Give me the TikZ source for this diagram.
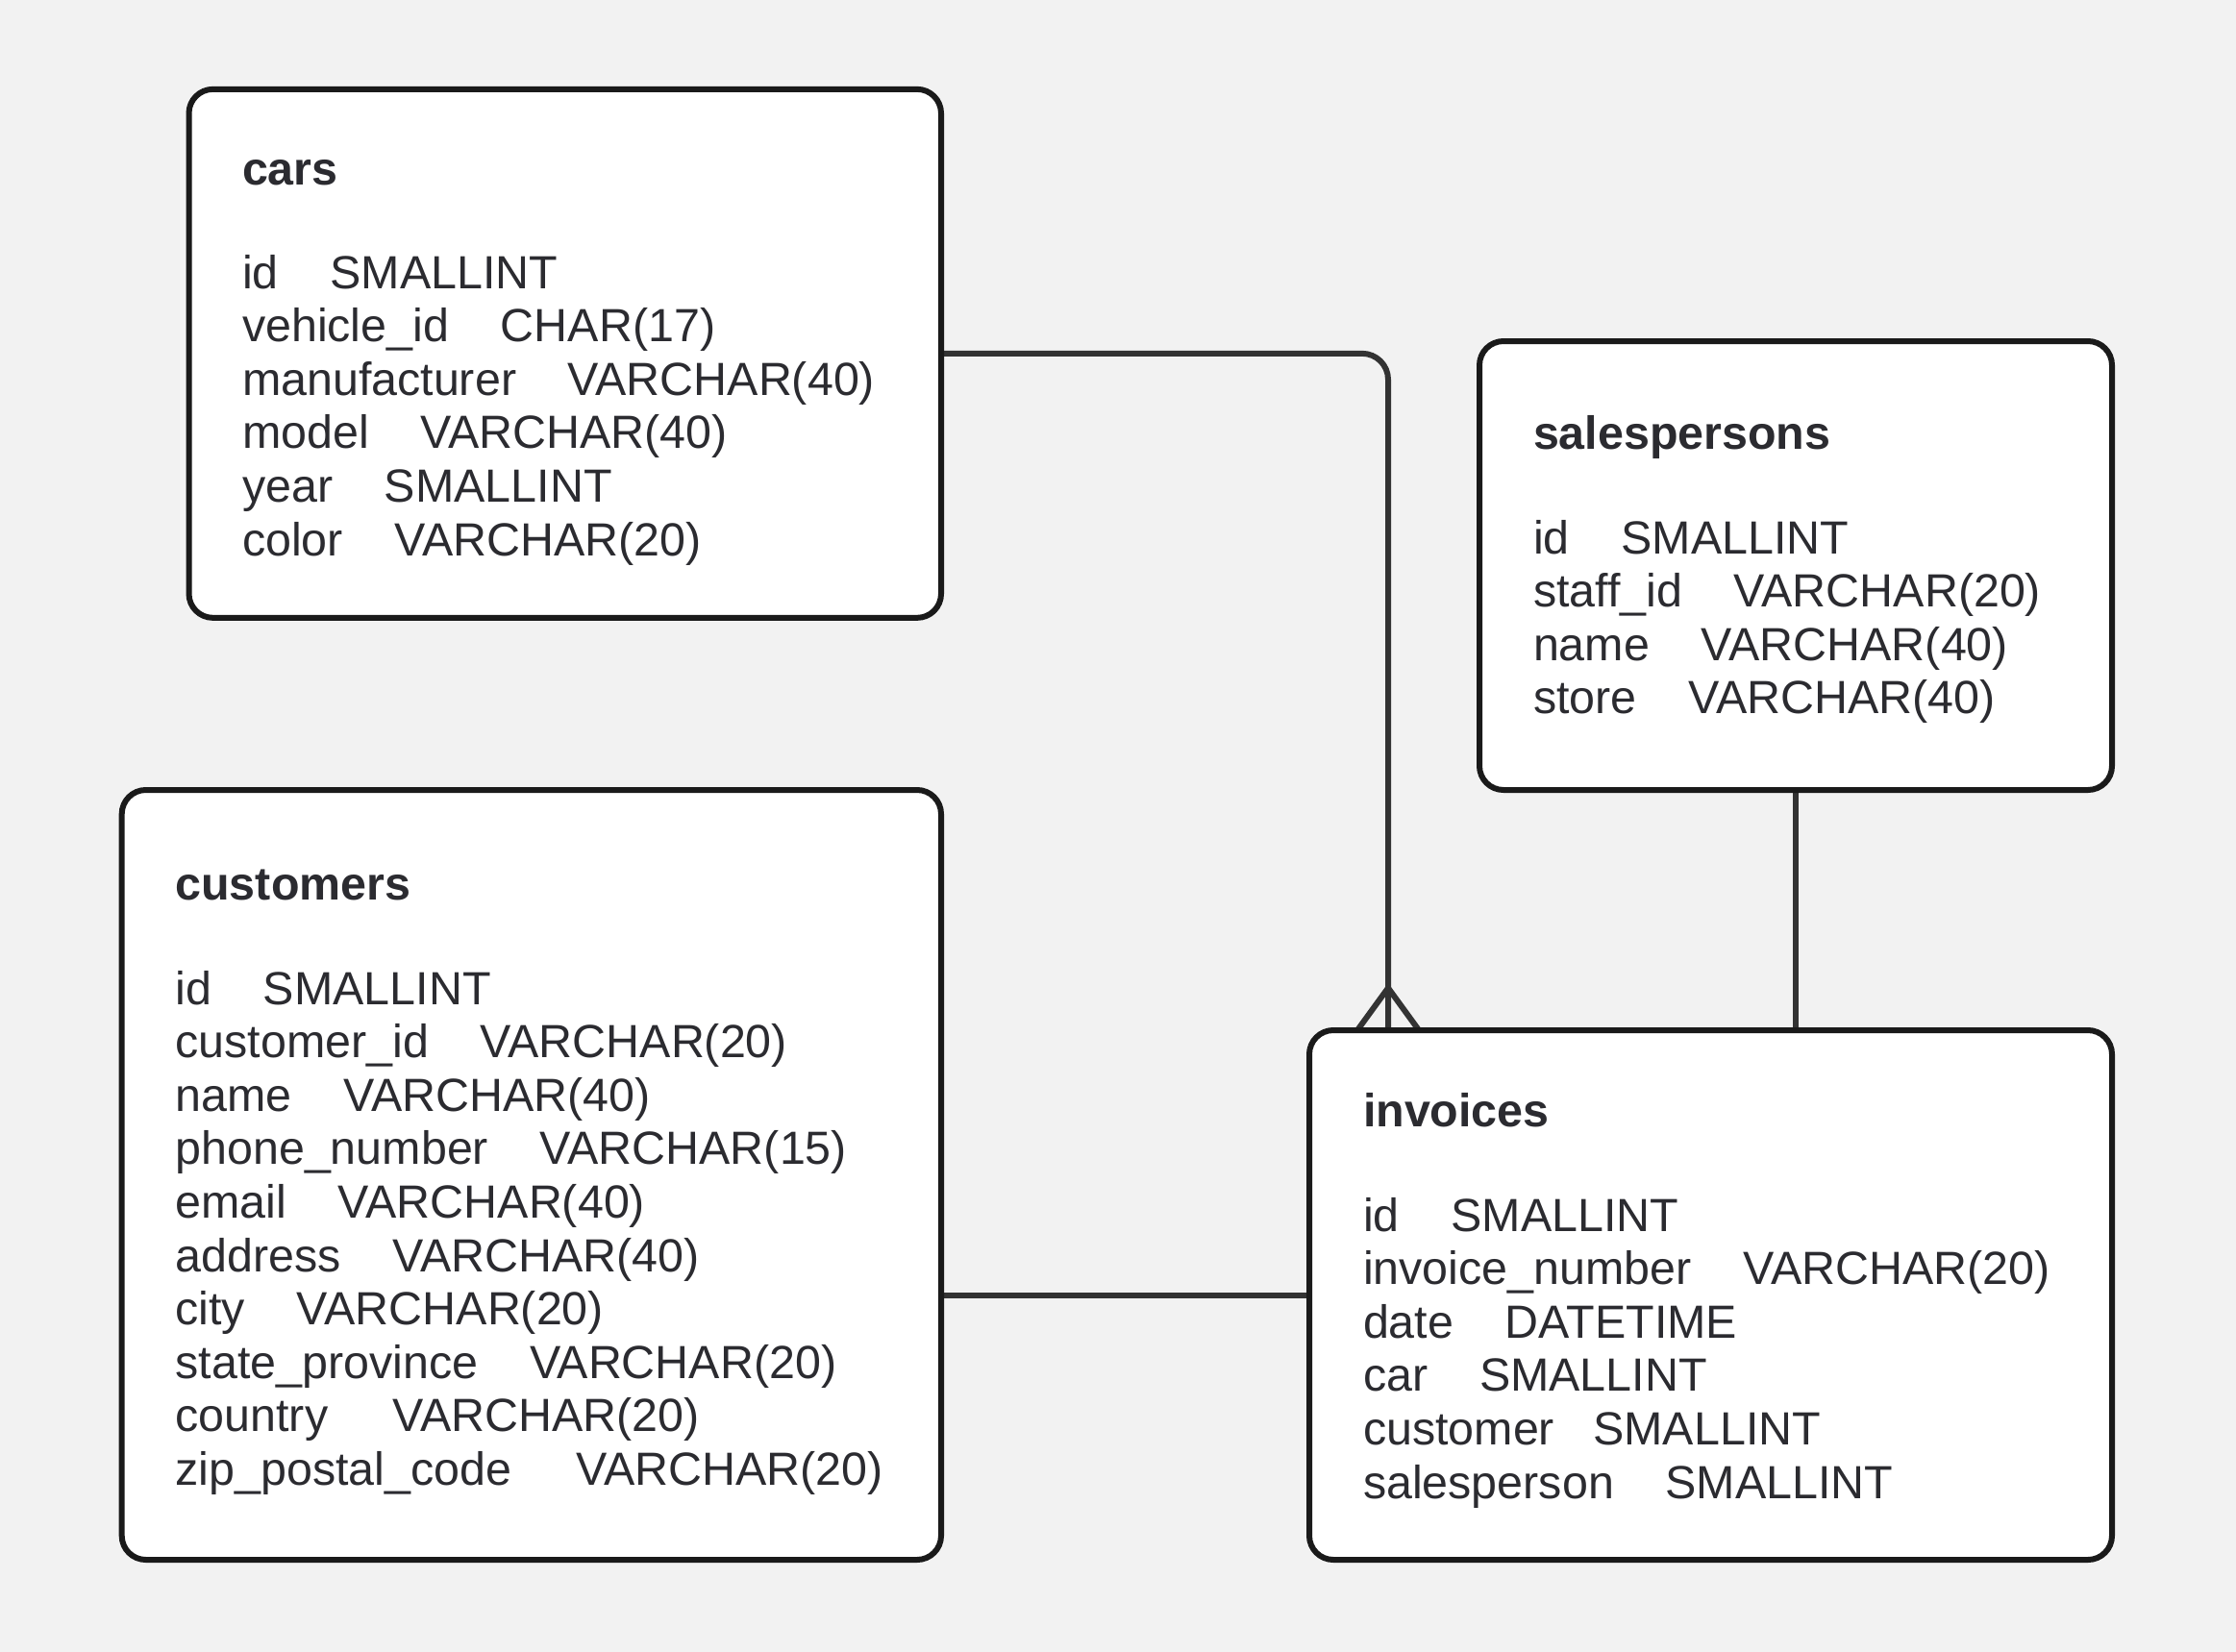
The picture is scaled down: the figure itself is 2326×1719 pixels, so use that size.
\documentclass[tikz,border=0pt]{standalone}
\usepackage{fontspec}
\setmainfont{Liberation Sans}
\usetikzlibrary{backgrounds}
\definecolor{bgc}{HTML}{F2F2F2}
\definecolor{edgec}{HTML}{1A1A1A}
\definecolor{linec}{HTML}{333333}
\definecolor{txtc}{HTML}{2B2B30}
\newcommand\sgap[1]{\hspace*{#1\fontdimen2\font}}
\begin{document}
\begin{tikzpicture}[x=0.5pt,y=-0.5pt,
  tbl/.style={rectangle, draw=edgec, fill=white, line width=3pt, rounded corners=12.5pt, inner sep=0pt, outer sep=0pt},
  fld/.style={anchor=base west, inner sep=0pt, outer sep=0pt, text=txtc, font=\fontsize{24.2}{28}\selectfont},
  ttl/.style={fld, font=\fontsize{24.2}{28}\selectfont\bfseries},
  conn/.style={draw=linec, line width=3pt}]
\useasboundingbox (0,0) rectangle (2326,1719);

% tables
\node[tbl, minimum width=391.25pt, minimum height=275pt] (cars) at (587.75,367.85) {};
\node[tbl, minimum width=329pt, minimum height=233.5pt] (salespersons) at (1868,588.5) {};
\node[tbl, minimum width=426.15pt, minimum height=400.5pt] (customers) at (552.85,1222.5) {};
\node[tbl, minimum width=417.5pt, minimum height=275.5pt] (invoices) at (1779.5,1347.5) {};

% cars
\node[ttl] (cars-t) at (252,192) {cars};
\foreach \t [count=\i] in {{id\sgap{4}SMALLINT},{vehicle\_id\sgap{4}CHAR(17)},{manufacturer\sgap{4}VARCHAR(40)},{model\sgap{4}VARCHAR(40)},{year\sgap{4}SMALLINT},{color\sgap{4}VARCHAR(20)}}
  \node[fld] (cars-\i) at (252,{300+55.6*(\i-1)}) {\t};

% salespersons
\node[ttl] (sales-t) at (1595,467) {salespersons};
\foreach \t [count=\i] in {{id\sgap{4}SMALLINT},{staff\_id\sgap{4}VARCHAR(20)},{name\sgap{4}VARCHAR(40)},{store\sgap{4}VARCHAR(40)}}
  \node[fld] (sales-\i) at (1595,{576+55.6*(\i-1)}) {\t};

% customers
\node[ttl] (cust-t) at (182.5,936) {customers};
\foreach \t [count=\i] in {{id\sgap{4}SMALLINT},{customer\_id\sgap{4}VARCHAR(20)},{name\sgap{4}VARCHAR(40)},{phone\_number\sgap{4}VARCHAR(15)},{email\sgap{4}VARCHAR(40)},{address\sgap{4}VARCHAR(40)},{city\sgap{4}VARCHAR(20)},{state\_province\sgap{4}VARCHAR(20)},{country\sgap{5}VARCHAR(20)},{zip\_postal\_code\sgap{5}VARCHAR(20)}}
  \node[fld] (cust-\i) at (182.5,{1045+55.6*(\i-1)}) {\t};

% invoices
\node[ttl] (inv-t) at (1418,1172) {invoices};
\foreach \t [count=\i] in {{id\sgap{4}SMALLINT},{invoice\_number\sgap{4}VARCHAR(20)},{date\sgap{4}DATETIME},{car\sgap{4}SMALLINT},{customer\sgap{3}SMALLINT},{salesperson\sgap{4}SMALLINT}}
  \node[fld] (inv-\i) at (1418,{1281+55.6*(\i-1)}) {\t};

\begin{scope}[on background layer]
  \fill[bgc] (0,0) rectangle (2326,1719);
  \draw[conn, rounded corners=13.5pt] (cars.east) -| ([xshift=41pt]invoices.north west);
  \draw[conn] (invoices.west) -- (invoices.west -| customers.east);
  \draw[conn] (salespersons.south) -- (salespersons.south |- invoices.north);
  \draw[conn] ([xshift=25pt]invoices.north west) -- ([xshift=41pt,yshift=22pt]invoices.north west) -- ([xshift=57pt]invoices.north west);
\end{scope}
\end{tikzpicture}
\end{document}
